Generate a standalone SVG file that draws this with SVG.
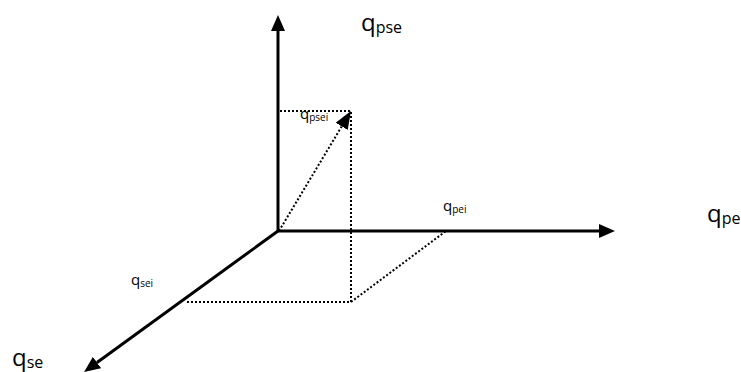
<svg xmlns="http://www.w3.org/2000/svg" width="741" height="372" viewBox="0 0 741 372">
<style>
.axis{stroke:#000;stroke-width:3;fill:none}
.dot{stroke:#000;stroke-width:2;stroke-dasharray:2 2;fill:none}
.lbl{font-family:"Open Sans","Noto Sans",sans-serif;fill:#000}
</style>
<defs>
<marker id="ah" markerUnits="userSpaceOnUse" markerWidth="16" markerHeight="14" viewBox="0 0 16 14" refX="0" refY="7" orient="auto">
<path d="M0,0 L16,7 L0,14 z" fill="#000"/>
</marker>
<marker id="ahd" markerUnits="userSpaceOnUse" markerWidth="18" markerHeight="14" viewBox="0 0 18 14" refX="0" refY="7" orient="auto">
<path d="M0,0 L18,7 L0,14 z" fill="#000"/>
</marker>
</defs>
<rect width="741" height="372" fill="#fff"/>
<g id="connectors">
<line class="axis" x1="278" y1="231" x2="278" y2="31" marker-end="url(#ah)"/>
<line class="axis" x1="278" y1="231" x2="599" y2="231" marker-end="url(#ah)"/>
<line class="axis" x1="278" y1="231" x2="97" y2="362.5" marker-end="url(#ah)"/>
<line class="dot" x1="279" y1="231" x2="341.7" y2="126.4" marker-end="url(#ahd)"/>
<polyline class="dot" points="280,111 351,111 351,302 185,302"/>
<line class="dot" x1="351" y1="302" x2="446" y2="231"/>
</g>
<g id="qpse"><text class="lbl" x="361" y="31" font-size="24">q<tspan font-size="16" dy="2">pse</tspan></text></g>
<g id="qpsei"><text class="lbl" x="300" y="119" font-size="15">q<tspan font-size="10" dy="2">psei</tspan></text></g>
<g id="qpei"><text class="lbl" x="443" y="211" font-size="15">q<tspan font-size="10" dy="2">pei</tspan></text></g>
<g id="qpe"><text class="lbl" x="707" y="222" font-size="24">q<tspan font-size="16" dy="2">pe</tspan></text></g>
<g id="qsei"><text class="lbl" x="131" y="285" font-size="15">q<tspan font-size="10" dy="2">sei</tspan></text></g>
<g id="qse"><text class="lbl" x="12" y="366" font-size="24">q<tspan font-size="16" dy="2">se</tspan></text></g>
</svg>
